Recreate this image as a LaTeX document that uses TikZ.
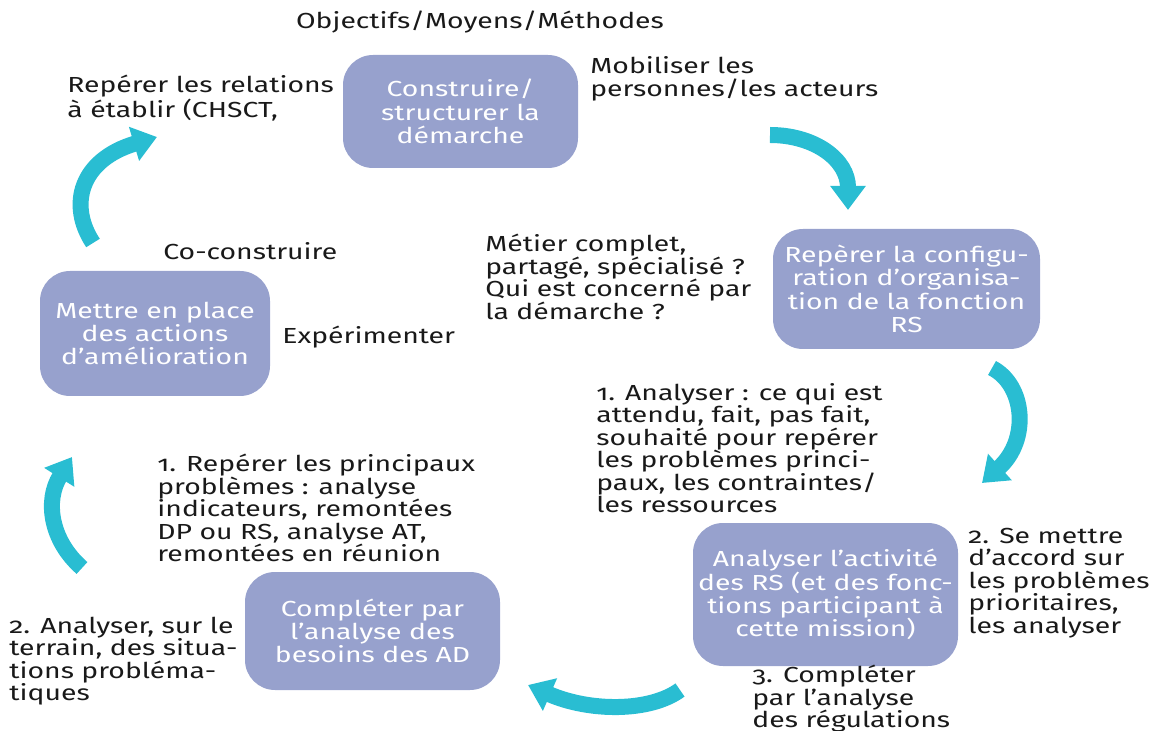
\documentclass[tikz,border=0pt]{standalone}
\usepackage{fontspec}
\setmainfont{Fira Sans}[FakeStretch=1.3, Numbers=OldStyle]
\usetikzlibrary{arrows.meta}

\definecolor{boxfill}{RGB}{151,161,205}
\definecolor{arrowcyan}{RGB}{41,189,210}
\definecolor{txtdark}{RGB}{25,25,25}

\tikzset{
    note/.style={anchor=west, align=left, inner sep=0pt, text=txtdark,
        font=\fontsize{10.9}{11.25}\selectfont},
    stepbox/.style={fill=boxfill, rounded corners=15pt, align=center, inner sep=0pt,
        text=white, font=\fontsize{10.9}{11.6}\selectfont},
    cycle arrow/.style={->, line width=8pt, arrowcyan}
}

\begin{document}
\begin{tikzpicture}[>={Triangle[length=12pt, width=17pt]}, x=0.5pt, y=-0.5pt]
    \useasboundingbox (0,0) rectangle (1150,731);

    % the five steps
    \node[stepbox, minimum width=117.5pt, minimum height=56.5pt] (cons) at (460.5,111.5)
        {Construire/\\structurer la\\démarche};
    \node[stepbox, minimum width=133.5pt, minimum height=60pt] (conf) at (906.5,289)
        {Repèrer la configu-\\ration d’organisa-\\tion de la fonction\\RS};
    \node[stepbox, minimum width=132.5pt, minimum height=71.5pt] (acti) at (825.5,594.5)
        {Analyser l’activité\\des RS (et des fonc-\\tions participant à\\cette mission)};
    \node[stepbox, minimum width=127.5pt, minimum height=59pt] (besoins) at (372.5,631)
        {Compléter par\\l’analyse des\\besoins des AD};
    \node[stepbox, minimum width=115pt, minimum height=62.5pt] (actions) at (155,333.5)
        {Mettre en place\\des actions\\d’amélioration};

    % side notes
    \node[note, anchor=center] (obj) at (480,22) {Objectifs/Moyens/Méthodes};
    \node[note] (rel) at (67,98) {Repérer les relations\\à établir (CHSCT,};
    \node[note] (mob) at (590,79) {Mobiliser les\\personnes/les acteurs};
    \node[note] (metier) at (485,277)
        {Métier complet,\\partagé, spécialisé ?\\Qui est concerné par\\la démarche ?};
    \node[note] (cocons) at (163,251) {Co-construire};
    \node[note] (exper) at (282,337) {Expérimenter};
    \node[note] (anal1) at (596,448)
        {1. Analyser : ce qui est\\attendu, fait, pas fait,\\souhaité pour repérer\\les problèmes princi-\\paux, les contraintes/\\les ressources};
    \node[note] (accord) at (968,583)
        {2. Se mettre\\d’accord sur\\les problèmes\\prioritaires,\\les analyser};
    \node[note, anchor=north west] (regul) at (752,665)
        {3. Compléter\\par l’analyse\\des régulations};
    \node[note] (prob1) at (157,508)
        {1. Repérer les principaux\\problèmes : analyse\\indicateurs, remontées\\DP ou RS, analyse AT,\\remontées en réunion};
    \node[note] (terrain) at (9,661)
        {2. Analyser, sur le\\terrain, des situa-\\tions probléma-\\tiques};

    % cycle arrows
    \coordinate (a1s) at (770,135);  \coordinate (a1e) at (848,210);
    \coordinate (a2s) at (992,368);  \coordinate (a2e) at (982,483);
    \coordinate (a3s) at (680,690);  \coordinate (a3e) at (528,685);
    \coordinate (a4s) at (82,568);   \coordinate (a4e) at (72,457);
    \coordinate (a5s) at (93,243);   \coordinate (a5e) at (157,137);

    \draw[cycle arrow] (a1s) .. controls (815,135) and (848,160) .. (a1e);
    \draw[cycle arrow] (a2s) .. controls (1025,385) and (1030,440) .. (a2e);
    \draw[cycle arrow] (a3s) .. controls (650,712) and (590,712) .. (a3e);
    \draw[cycle arrow] (a4s) .. controls (50,540) and (45,500) .. (a4e);
    \draw[cycle arrow] (a5s) .. controls (68,205) and (80,160) .. (a5e);
\end{tikzpicture}
\end{document}
